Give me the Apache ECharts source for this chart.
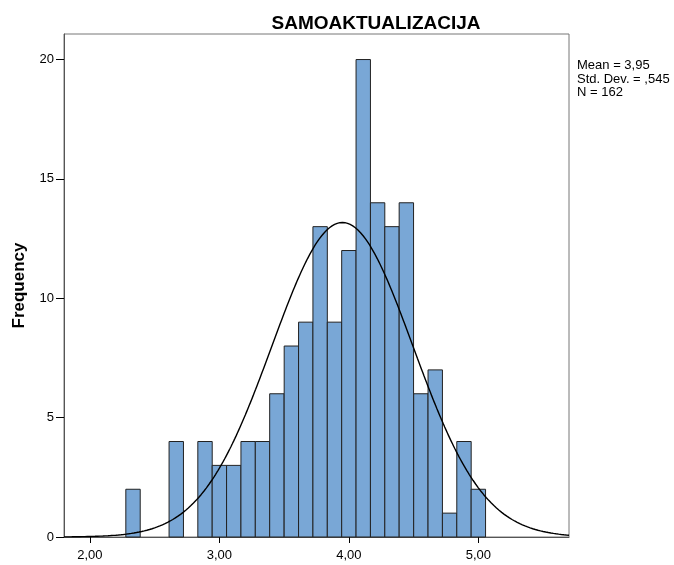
<!DOCTYPE html>
<html><head><meta charset="utf-8">
<script src="https://cdn.jsdelivr.net/npm/echarts@6/dist/echarts.min.js"></script>
<style>html,body{margin:0;padding:0;background:#fff}#c{width:674px;height:565px}</style>
</head><body><div id="c"></div>
<script>
// Data
const binCenters = [2.333, 2.667, 2.889, 3.000, 3.111, 3.222, 3.333, 3.444, 3.556, 3.667, 3.778, 3.889, 4.000, 4.111, 4.222, 4.333, 4.444, 4.556, 4.667, 4.778, 4.889, 5.000];
const counts     = [2,     4,     4,     3,     3,     4,     4,     6,     8,     9,     13,    9,     12,    20,    14,    13,    14,    6,     7,     1,     4,     2];
const binWidth = 0.1111;
const xTicks = [2, 3, 4, 5];
const yTicks = [0, 5, 10, 15, 20];
const meanVal = 3.95, sdVal = 0.545, nVal = 162;
const xMin = 1.80, xMax = 5.70, yMax = 21.07;

// fitted normal curve (from the stats shown in the chart)
const curve = [];
for (let i = 0; i <= 390; i++) {
  const x = xMin + i * (xMax - xMin) / 390;
  const z = (x - meanVal) / sdVal;
  curve.push([x, nVal * binWidth * Math.exp(-0.5 * z * z) / (sdVal * Math.sqrt(2 * Math.PI))]);
}

const chart = echarts.init(document.getElementById('c'));
const font = 'Liberation Sans, Arial, sans-serif';
chart.setOption({
  animation: false,
  title: {
    text: 'SAMOAKTUALIZACIJA', left: 371, top: 9, textAlign: 'center',
    textStyle: { fontFamily: font, fontSize: 19, fontWeight: 'bold', color: '#000' }
  },
  graphic: [{
    type: 'text', left: 577, top: 59,
    style: { text: 'Mean = 3,95\nStd. Dev. = ,545\nN = 162', font: '13px ' + font, fill: '#000', lineHeight: 13.5 }
  }],
  grid: { left: 64, right: 105, top: 34, bottom: 28, show: true, borderColor: '#777', borderWidth: 1, backgroundColor: '#fff' },
  xAxis: {
    type: 'value', min: xMin, max: xMax,
    axisLine: { show: true, lineStyle: { color: '#555' } },
    axisTick: { show: true, length: 6, lineStyle: { color: '#000' }, customValues: xTicks },
    axisLabel: { customValues: xTicks, formatter: v => v.toFixed(2).replace('.', ','), fontFamily: font, fontSize: 13, color: '#000', margin: 12 },
    splitLine: { show: false }
  },
  yAxis: {
    type: 'value', min: 0, max: yMax,
    name: 'Frequency', nameLocation: 'middle', nameGap: 36, nameRotate: 90,
    nameTextStyle: { fontFamily: font, fontSize: 17, fontWeight: 'bold', color: '#000' },
    axisLine: { show: true, lineStyle: { color: '#555' } },
    axisTick: { show: true, length: 8, lineStyle: { color: '#000' }, customValues: yTicks },
    axisLabel: { customValues: yTicks, fontFamily: font, fontSize: 13, color: '#000', margin: 10 },
    splitLine: { show: false }
  },
  series: [{
    type: 'custom',
    data: binCenters.map((c, i) => [c, counts[i]]),
    renderItem: (params, api) => {
      const c = api.value(0), h = api.value(1);
      const p0 = api.coord([c - binWidth / 2, h]);
      const p1 = api.coord([c + binWidth / 2, 0]);
      return {
        type: 'rect',
        shape: { x: p0[0], y: p0[1], width: p1[0] - p0[0], height: p1[1] - p0[1] },
        style: { fill: '#79a7d6', stroke: '#222', lineWidth: 1 }
      };
    },
    z: 2
  }, {
    type: 'line', data: curve, showSymbol: false, smooth: false,
    lineStyle: { color: '#000', width: 1.4 }, z: 3
  }]
});
</script></body></html>
